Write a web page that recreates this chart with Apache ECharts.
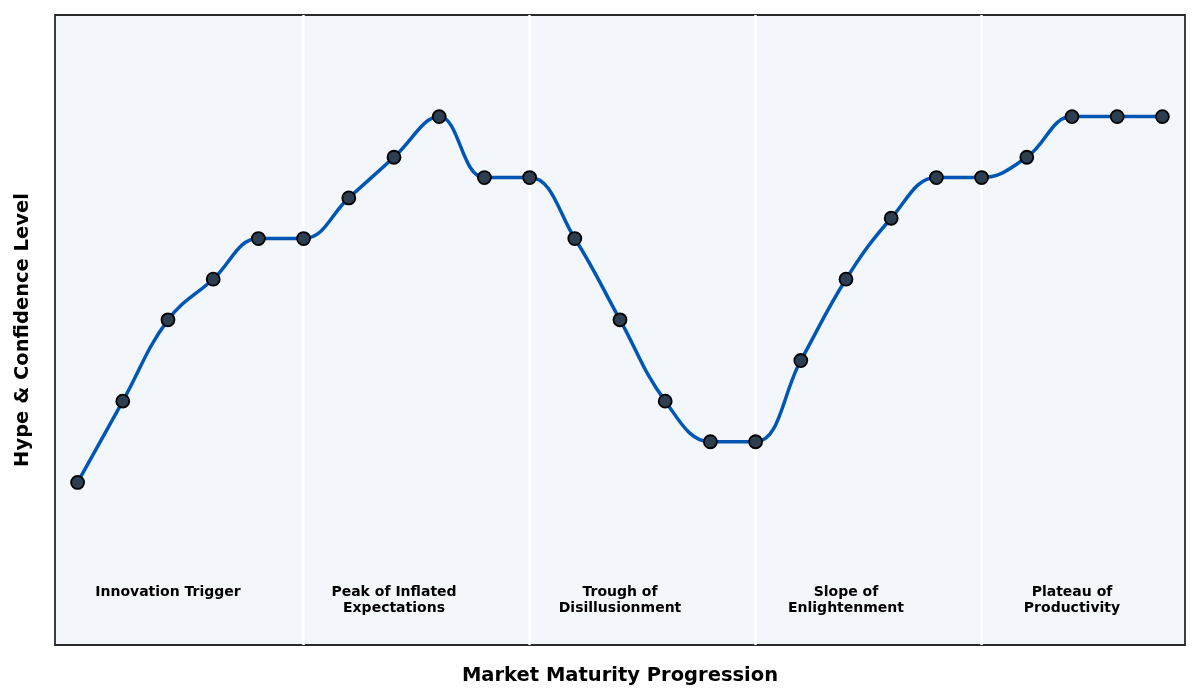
<html lang="en">
<head>
    <meta charset="UTF-8">
    <title>Hype Cycle</title>
    <script src="https://cdn.jsdelivr.net/npm/echarts@6/dist/echarts.min.js"></script>
    <style>
        html, body { margin: 0; padding: 0; background: #fff; }
        #chart { width: 1200px; height: 700px; }
    </style>
</head>
<body>
    <div id="chart"></div>
    <script>
        // data
        var steps = [0, 1, 2, 3, 4, 5, 6, 7, 8, 9, 10, 11, 12, 13, 14, 15, 16, 17, 18, 19, 20, 21, 22, 23, 24];
        var hype = [20, 40, 60, 70, 80, 80, 90, 100, 110, 95, 95, 80, 60, 40, 30, 30, 50, 70, 85, 95, 95, 100, 110, 110, 110];
        var phaseBounds = [5, 10, 15, 20];
        var phaseCenters = [2, 7, 12, 17, 22];
        var phaseNames = ['Innovation Trigger', 'Peak of Inflated\nExpectations', 'Trough of\nDisillusionment', 'Slope of\nEnlightenment', 'Plateau of\nProductivity'];
        var phaseLabelY = -5;

        var chart = echarts.init(document.getElementById('chart'));
        var font = 'DejaVu Sans';

        var option = {
            animation: false,
            grid: {
                left: 55, right: 15, top: 15, bottom: 55,
                show: true,
                backgroundColor: '#f3f6fa',
                borderColor: '#2a2a2a',
                borderWidth: 1.8
            },
            xAxis: {
                type: 'value',
                min: -0.5,
                max: 24.5,
                name: 'Market Maturity Progression',
                nameLocation: 'middle',
                nameGap: 21,
                nameTextStyle: { fontFamily: font, fontWeight: 'bold', fontSize: 19.5, color: '#000' },
                axisLine: { show: false },
                axisTick: { show: false },
                axisLabel: { show: false },
                splitLine: { show: false }
            },
            yAxis: {
                type: 'value',
                min: -20,
                max: 135,
                name: 'Hype & Confidence Level',
                nameLocation: 'middle',
                nameGap: 22,
                nameTextStyle: { fontFamily: font, fontWeight: 'bold', fontSize: 19.5, color: '#000' },
                axisLine: { show: false },
                axisTick: { show: false },
                axisLabel: { show: false },
                splitLine: { show: false }
            },
            series: [
                {
                    type: 'line',
                    data: [],
                    silent: true,
                    z: 1,
                    markLine: {
                        silent: true,
                        z: 1,
                        symbol: 'none',
                        label: { show: false },
                        lineStyle: { color: '#ffffff', width: 2.5, type: 'solid' },
                        data: phaseBounds.map(function (b) { return { xAxis: b }; })
                    }
                },
                {
                    type: 'line',
                    data: steps.map(function (s, i) { return [s, hype[i]]; }),
                    smooth: 0.4,
                    symbol: 'circle',
                    symbolSize: 13,
                    lineStyle: { color: '#0057b3', width: 3.5 },
                    itemStyle: { color: '#2c3e50', borderColor: '#000000', borderWidth: 1.8 },
                    z: 3
                },
                {
                    type: 'scatter',
                    symbolSize: 0,
                    silent: true,
                    z: 4,
                    itemStyle: { opacity: 1 },
                    data: phaseCenters.map(function (c, i) { return [c, phaseLabelY, phaseNames[i]]; }),
                    label: {
                        show: true,
                        position: 'bottom',
                        distance: 0,
                        opacity: 1,
                        formatter: function (p) { return p.data[2]; },
                        fontFamily: font,
                        fontWeight: 'bold',
                        fontSize: 14,
                        lineHeight: 16,
                        align: 'center',
                        color: '#000000'
                    }
                }
            ]
        };
        chart.setOption(option);
    </script>
</body>
</html>
